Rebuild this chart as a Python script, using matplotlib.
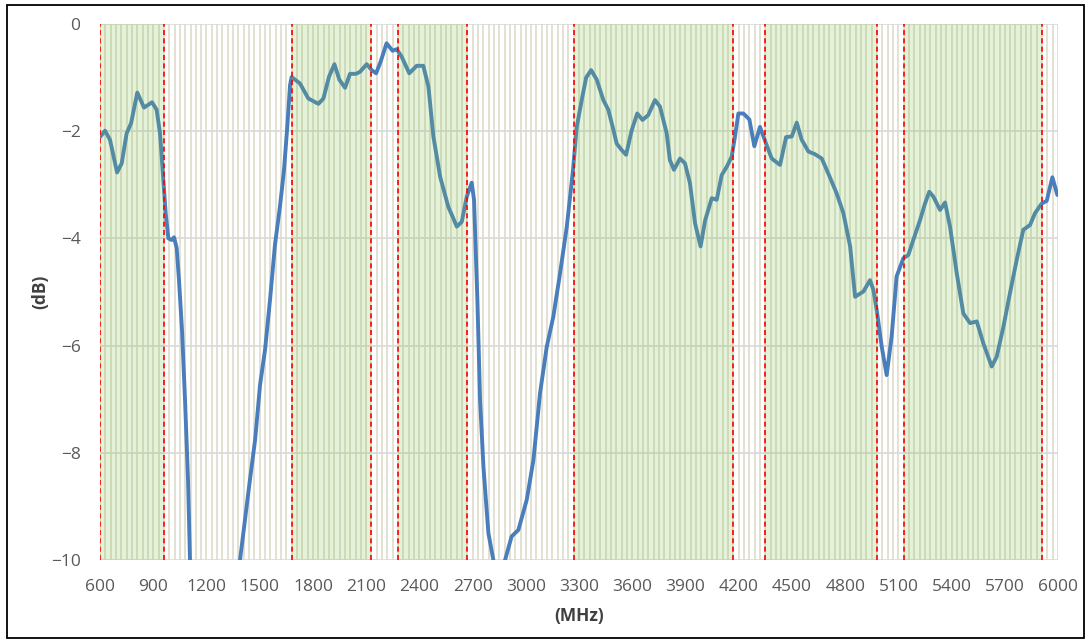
import matplotlib
matplotlib.use("Agg")
import matplotlib.pyplot as plt
from matplotlib.patches import Rectangle

plt.rcParams["font.family"] = ["Open Sans", "DejaVu Sans"]

# frequency (MHz) / response (dB)
freq_mhz = [
    600, 628, 656, 696, 722, 750, 775, 810, 848, 893, 919, 938, 957, 970, 985,
    1004, 1017, 1032, 1045, 1062, 1079, 1096, 1107, 1130, 1200, 1300, 1360,
    1389, 1417, 1445, 1474, 1502, 1530, 1558, 1586, 1615, 1637, 1654, 1671,
    1680, 1727, 1774, 1831, 1859, 1891, 1921, 1949, 1981, 2009, 2043, 2066,
    2103, 2131, 2156, 2182, 2215, 2249, 2272, 2300, 2343, 2385, 2422, 2451,
    2479, 2517, 2563, 2611, 2639, 2667, 2695, 2708, 2727, 2742, 2761, 2789,
    2817, 2840, 2860, 2883, 2920, 2958, 3005, 3043, 3080, 3118, 3155, 3193,
    3231, 3266, 3287, 3315, 3340, 3368, 3400, 3437, 3465, 3494, 3512, 3540,
    3565, 3597, 3628, 3658, 3690, 3728, 3756, 3794, 3812, 3835, 3869, 3897,
    3925, 3954, 3985, 4011, 4048, 4076, 4104, 4133, 4160, 4179, 4198, 4226,
    4260, 4288, 4320, 4354, 4386, 4433, 4467, 4499, 4527, 4555, 4593, 4630,
    4668, 4705, 4752, 4790, 4828, 4856, 4903, 4940, 4959, 4978, 5006, 5034,
    5062, 5090, 5128, 5156, 5184, 5222, 5250, 5274, 5297, 5335, 5363, 5391,
    5429, 5466, 5504, 5542, 5579, 5626, 5654, 5692, 5729, 5767, 5804, 5842,
    5870, 5908, 5936, 5968, 5996,
]
gain_db = [
    -2.11, -1.99, -2.16, -2.77, -2.60, -2.04, -1.85, -1.28, -1.56, -1.46, -1.60,
    -2.04, -2.91, -3.53, -4.00, -4.03, -3.98, -4.18, -4.78, -5.71, -7.01, -8.51,
    -10.0, -11.0, -12.0, -12.0, -11.0,
    -10.0, -9.25, -8.50, -7.76, -6.73, -6.08, -5.15, -4.12, -3.38, -2.72, -1.98,
    -1.14,
    -0.99, -1.11, -1.39, -1.49, -1.39, -0.98, -0.75, -1.04, -1.19, -0.93, -0.93,
    -0.89, -0.75, -0.86, -0.92, -0.70, -0.36, -0.50, -0.47, -0.61, -0.92, -0.78,
    -0.78, -1.17, -2.10, -2.85, -3.41, -3.78, -3.69, -3.22, -2.96, -3.28, -5.15,
    -7.01, -8.26, -9.50, -10.0, -10.8, -10.8, -10.0, -9.56, -9.44, -8.88, -8.13,
    -6.89, -6.02, -5.46, -4.65, -3.78, -2.72, -1.92, -1.42, -1.00, -0.86, -1.04,
    -1.42, -1.60, -1.98, -2.23, -2.35, -2.44, -1.98, -1.67, -1.79, -1.70, -1.42,
    -1.54, -2.04, -2.54, -2.72, -2.51, -2.60, -2.97, -3.72, -4.15, -3.66, -3.25,
    -3.28, -2.82, -2.66, -2.48, -2.10, -1.67, -1.67, -1.78, -2.28, -1.92, -2.23,
    -2.51, -2.63, -2.11, -2.10, -1.84, -2.16, -2.38, -2.43, -2.51, -2.79, -3.16,
    -3.53, -4.15, -5.09, -4.99, -4.78, -4.96, -5.34, -6.02, -6.55, -5.83, -4.71,
    -4.37, -4.31, -4.03, -3.66, -3.35, -3.13, -3.22, -3.47, -3.33, -3.78, -4.65,
    -5.40, -5.58, -5.55, -5.96, -6.39, -6.21, -5.65, -5.02, -4.40, -3.84, -3.75,
    -3.53, -3.35, -3.30, -2.86, -3.19,
]

# band edges (MHz), shaded between each pair
band_starts = [600, 1680, 2280, 3270, 4350, 5130]
band_ends = [960, 2130, 2670, 4170, 4980, 5910]

x_ticks = list(range(600, 6001, 300))
y_ticks = [0, -2, -4, -6, -8, -10]
category_step = 30

fig = plt.figure(figsize=(10.91, 6.43), dpi=100)
ax = fig.add_axes([0.0917, 0.1291, 0.8781, 0.8336])

# category gridlines
for f in range(600, 6001, category_step):
    ax.axvline(f, color="#dbd8c8", lw=1.1, zorder=1)
for v in y_ticks:
    ax.axhline(v, color="#d9d9d9", lw=1.2, zorder=1)

ax.plot(freq_mhz, gain_db, color="#4a7ebb", lw=2.8, zorder=2,
        solid_joinstyle="round", solid_capstyle="round")

for start, end in zip(band_starts, band_ends):
    ax.axvspan(start, end, color="#7cc043", alpha=0.2, lw=0, zorder=3)
    for edge in (start, end):
        ax.axvline(edge, color="#ff0000", lw=1.2, ls=(0, (3, 2)), zorder=4)

ax.set_xlim(600, 6000)
ax.set_ylim(-10, 0)
ax.set_xticks(x_ticks)
ax.set_yticks(y_ticks)
ax.tick_params(length=0, labelsize=12.5, labelcolor="#595959")
ax.tick_params(axis="x", pad=14)
ax.tick_params(axis="y", pad=14)
for side in ("top", "right", "left", "bottom"):
    ax.spines[side].set_visible(False)

ax.set_xlabel("(MHz)", fontsize=12.5, fontweight="bold", color="#404040", labelpad=8)
ax.set_ylabel("(dB)", fontsize=12.5, fontweight="bold", color="#404040", labelpad=1)

fig.patches.append(Rectangle((0.0064, 0.0078), 0.987, 0.9844, transform=fig.transFigure,
                             fill=False, edgecolor="black", lw=1.3))

fig.savefig("out.png", dpi=100)
